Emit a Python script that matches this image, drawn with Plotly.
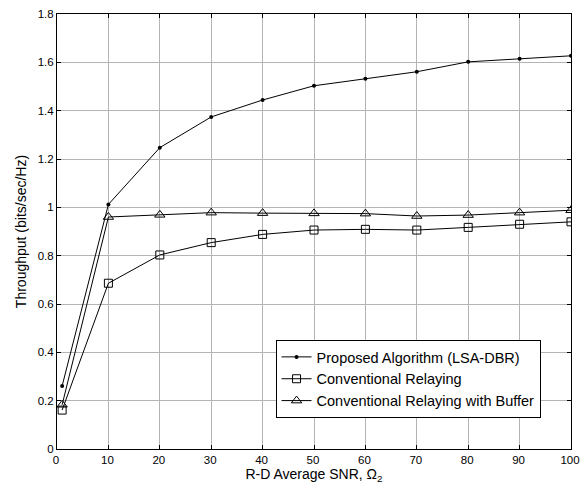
import plotly.graph_objects as go

snr = [1, 10, 20, 30, 40, 50, 60, 70, 80, 90, 100]
proposed = [0.261, 1.012, 1.247, 1.374, 1.444, 1.503, 1.532, 1.561, 1.602, 1.615, 1.627]
conventional = [0.161, 0.686, 0.803, 0.854, 0.888, 0.906, 0.909, 0.906, 0.917, 0.930, 0.940]
conv_buffer = [0.183, 0.960, 0.969, 0.978, 0.976, 0.975, 0.974, 0.964, 0.968, 0.978, 0.988]

x_ticks = [0, 10, 20, 30, 40, 50, 60, 70, 80, 90, 100]
y_ticks = [0, 0.2, 0.4, 0.6, 0.8, 1.0, 1.2, 1.4, 1.6, 1.8]
y_tick_labels = ["0", "0.2", "0.4", "0.6", "0.8", "1", "1.2", "1.4", "1.6", "1.8"]

FONT = "Arial, Liberation Sans, sans-serif"

fig = go.Figure()
fig.add_trace(go.Scatter(
    x=snr, y=proposed, mode="lines+markers", name="Proposed Algorithm (LSA-DBR)",
    line=dict(color="black", width=1),
    marker=dict(symbol="circle", size=4, color="black")))
fig.add_trace(go.Scatter(
    x=snr, y=conventional, mode="lines+markers", name="Conventional Relaying",
    line=dict(color="black", width=1),
    marker=dict(symbol="square-open", size=8, color="black", line=dict(width=1))))
fig.add_trace(go.Scatter(
    x=snr, y=conv_buffer, mode="lines+markers", name="Conventional Relaying with Buffer",
    line=dict(color="black", width=1),
    marker=dict(symbol="triangle-up-open", size=9, color="black", line=dict(width=1))))

axis_common = dict(
    showline=True, linecolor="black", linewidth=1, mirror="ticks",
    ticks="inside", ticklen=4, tickcolor="black", automargin=False,
    ticklabeloverflow="allow",
    showgrid=True, gridcolor="#b4b4b4", gridwidth=1, zeroline=False,
    tickfont=dict(family=FONT, size=11.5, color="black"),
)

fig.update_xaxes(range=[0, 100], tickvals=x_ticks, ticklabelshift=-1,
                 title=dict(text="R-D Average SNR, Ω<sub>2</sub>", standoff=2,
                            font=dict(family=FONT, size=14, color="black")),
                 **axis_common)
fig.update_yaxes(range=[0, 1.8], tickvals=y_ticks, ticktext=y_tick_labels,
                 title=dict(text="Throughput (bits/sec/Hz)", standoff=7,
                            font=dict(family=FONT, size=14, color="black")),
                 **axis_common)

fig.update_layout(
    width=580, height=487,
    margin=dict(l=57, r=9, t=14, b=38),
    paper_bgcolor="white", plot_bgcolor="white",
    showlegend=True,
    legend=dict(x=0.683, y=0.161, xanchor="center", yanchor="middle",
                bgcolor="white", bordercolor="black", borderwidth=1,
                font=dict(family=FONT, size=14.5, color="black"),
                tracegroupgap=0, itemwidth=30),
)

fig.write_html("out.html",
               config={"displayModeBar": False},
               post_script="document.body.style.margin='0';document.body.style.overflow='hidden';")
